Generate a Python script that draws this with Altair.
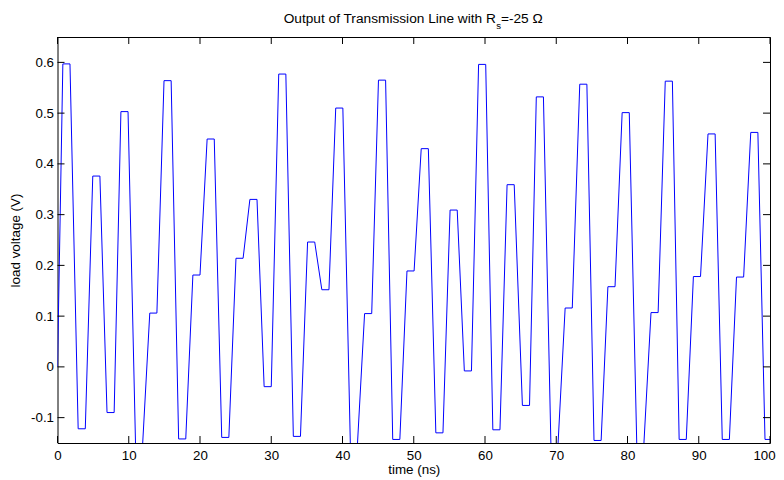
import altair as alt
import pandas as pd

# ---- data ----
# start time (ns) of each 1-ns flat step of the load voltage
flat_start = [0.75, 2.9, 4.95, 6.95, 8.9, 10.95, 12.95, 14.95, 17.0, 19.0,
              21.0, 23.05, 25.05, 27.0, 29.0, 31.05, 33.1, 35.1, 37.1, 39.05,
              41.1, 43.1, 45.05, 47.05, 49.05, 51.05, 53.1, 55.1, 57.1, 59.1,
              61.1, 63.1, 65.25, 67.2, 69.25, 71.25, 73.3, 75.3, 77.25, 79.25,
              81.3, 83.3, 85.3, 87.25, 89.25, 91.3, 93.3, 95.3, 97.3, 99.3]
# load voltage (V) held during each step
load_v = [0.597, -0.122, 0.376, -0.090, 0.503, -0.152, 0.106, 0.564, -0.142, 0.181,
          0.449, -0.139, 0.214, 0.330, -0.039, 0.577, -0.137, 0.246, 0.152, 0.510,
          -0.152, 0.105, 0.565, -0.143, 0.189, 0.430, -0.130, 0.309, -0.008, 0.596,
          -0.124, 0.359, -0.076, 0.532, -0.152, 0.116, 0.557, -0.145, 0.158, 0.501,
          -0.152, 0.107, 0.563, -0.143, 0.178, 0.459, -0.143, 0.177, 0.462, -0.143]
hold_ns = 1.0
start_t = [0.0]
start_v = [0.0]

x_ticks = [0, 10, 20, 30, 40, 50, 60, 70, 80, 90, 100]
y_ticks = [-0.1, 0.0, 0.1, 0.2, 0.3, 0.4, 0.5, 0.6]
x_domain = [0, 100]
y_domain = [-0.15, 0.65]

title_main = ["Output of Transmission Line with R"]
title_sub = ["s"]
title_rest = ["=-25 \u03a9"]
x_title = "time (ns)"
y_title = "load voltage (V)"

# ---- build table ----
t_vals = list(start_t)
v_vals = list(start_v)
for s, v in zip(flat_start, load_v):
    t_vals += [s, s + hold_ns]
    v_vals += [v, v]
df = pd.DataFrame({"t": t_vals, "v": v_vals})

W, H = 712.5, 406
FONT = "Liberation Sans"
TICK = 7

xs = alt.Scale(domain=x_domain, nice=False, zero=False)
ys = alt.Scale(domain=y_domain, nice=False, zero=False)

x_axis = alt.Axis(values=x_ticks, title=x_title, ticks=False, tickSize=0, domain=False,
                  grid=False, labelPadding=16, labelBaseline="alphabetic",
                  labelFont=FONT, labelFontSize=13.3, labelColor="black",
                  labelFlush=False, labelOverlap=False,
                  labelOffset={"condition": {"test": "datum.value == 100", "value": -6},
                               "value": 0},
                  titleFont=FONT, titleFontSize=13.4, titleFontWeight="normal",
                  titleColor="black", titleX=W / 2, titleY=30.5,
                  titleAlign="center", titleBaseline="alphabetic")
y_axis = alt.Axis(values=y_ticks, title=y_title, ticks=False, tickSize=0, domain=False,
                  grid=False, labelPadding=4, labelFont=FONT, labelFontSize=13.3,
                  labelColor="black", labelFlush=False, labelOverlap=False,
                  labelExpr="datum.value == 0 ? '0' : replace(format(datum.value, '.1f'), '\u2212', '-')",
                  titleFont=FONT, titleFontSize=13.4, titleFontWeight="normal",
                  titleColor="black", titleAngle=270, titleX=-38.5, titleY=H / 2,
                  titleAlign="center", titleBaseline="alphabetic")

line = alt.Chart(df).mark_line(color="#0000ff", strokeWidth=1, clip=True).encode(
    x=alt.X("t:Q", scale=xs, axis=x_axis),
    y=alt.Y("v:Q", scale=ys, axis=y_axis),
)

xt = pd.DataFrame({"t": x_ticks})
yt = pd.DataFrame({"v": y_ticks})
rule_kw = dict(color="black", strokeWidth=1)
xb = alt.Chart(xt).mark_rule(**rule_kw).encode(
    x=alt.X("t:Q", scale=xs), y=alt.value(H), y2=alt.value(H - TICK))
xtp = alt.Chart(xt).mark_rule(**rule_kw).encode(
    x=alt.X("t:Q", scale=xs), y=alt.value(0), y2=alt.value(TICK))
yl = alt.Chart(yt).mark_rule(**rule_kw).encode(
    y=alt.Y("v:Q", scale=ys), x=alt.value(0), x2=alt.value(TICK))
yr = alt.Chart(yt).mark_rule(**rule_kw).encode(
    y=alt.Y("v:Q", scale=ys), x=alt.value(W), x2=alt.value(W - TICK))

TX = 438.4
t1 = alt.Chart(pd.DataFrame({"s": title_main})).mark_text(
    font=FONT, fontSize=13.7, color="black", align="right", baseline="alphabetic"
).encode(x=alt.value(TX), y=alt.value(-14.3), text="s:N")
t2 = alt.Chart(pd.DataFrame({"s": title_sub})).mark_text(
    font=FONT, fontSize=9.6, color="black", align="left", baseline="alphabetic"
).encode(x=alt.value(TX + 0.3), y=alt.value(-8.0), text="s:N")
t3 = alt.Chart(pd.DataFrame({"s": title_rest})).mark_text(
    font=FONT, fontSize=13.7, color="black", align="left", baseline="alphabetic"
).encode(x=alt.value(TX + 5.0), y=alt.value(-14.3), text="s:N")

chart = alt.layer(line, xb, xtp, yl, yr, t1, t2, t3).properties(
    width=W, height=H,
    autosize=alt.AutoSizeParams(type="none"),
    padding={"left": 49.5, "top": 29, "right": 6, "bottom": 35},
    background="white",
).configure_view(stroke="black", strokeWidth=1)

chart.save("out.html", embed_options={"renderer": "svg", "actions": False})
